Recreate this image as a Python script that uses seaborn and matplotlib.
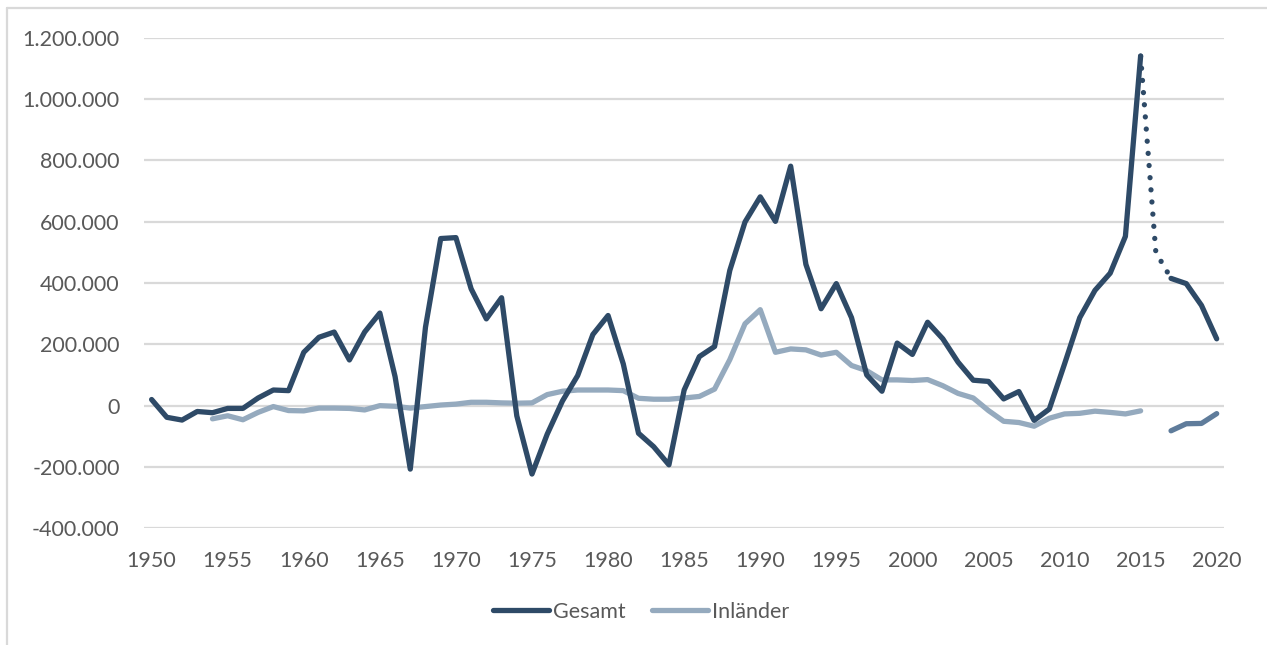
import matplotlib
matplotlib.use("Agg")
import matplotlib.pyplot as plt
import seaborn as sns
import pandas as pd
from matplotlib.lines import Line2D

# ---- data (net migration, persons) ----
years_gesamt = list(range(1950, 2016))
gesamt = [20000, -38000, -47000, -19000, -23000, -9000, -9000, 25000, 51000, 49000,
          174000, 223000, 240000, 149000, 240000, 302000, 95000, -207000, 256000, 545000,
          548000, 381000, 283000, 352000, -33000, -223000, -93000, 15000, 98000, 232000,
          294000, 136000, -90000, -134000, -193000, 51000, 160000, 193000, 441000, 599000,
          681000, 601000, 781000, 461000, 316000, 398000, 287000, 100000, 47000, 204000,
          167000, 272000, 218000, 142000, 83000, 79000, 22000, 46000, -48000, -11000,
          136000, 287000, 376000, 432000, 552000, 1140000]
years_gesamt_break = [2015, 2016, 2017]
gesamt_break = [1140000, 500000, 415000]
years_gesamt_late = [2017, 2018, 2019, 2020]
gesamt_late = [415000, 398000, 327000, 218000]

years_inl = list(range(1954, 2016))
inlaender = [-43000, -33000, -46000, -22000, -3000, -16000, -17000, -8000, -8000, -9000,
             -14000, 0, -2000, -8000, -3000, 2000, 5000, 11000, 11000, 9000,
             8000, 9000, 36000, 47000, 51000, 51000, 51000, 49000, 24000, 21000,
             21000, 25000, 30000, 54000, 150000, 267000, 313000, 174000, 185000, 182000,
             165000, 174000, 131000, 114000, 84000, 84000, 82000, 85000, 65000, 40000,
             25000, -16000, -51000, -55000, -67000, -41000, -27000, -25000, -18000, -22000,
             -27000, -17000]
years_inl_late = [2017, 2018, 2019, 2020]
inlaender_late = [-82000, -59000, -58000, -26000]

series_names = ["Gesamt", "Inländer"]
xticks = list(range(1950, 2021, 5))
yticks = list(range(-400000, 1200001, 200000))

# ---- style ----
c_gesamt = "#2E4A67"
c_inl = "#95AABE"
c_inl_late = "#5F7C9B"
c_text = "#595959"
c_grid = "#D9D9D9"

sns.set_theme(style="white")
plt.rcParams["font.family"] = ["Lato", "DejaVu Sans"]

fig = plt.figure(figsize=(12.67, 6.45), dpi=100)
ax = fig.add_axes([144 / 1267, (645 - 528.3) / 645, 1080.3 / 1267, 490.6 / 645])

lw = 3.8
common = dict(ax=ax, linewidth=lw, legend=False)

def draw(x, y, color, **kw):
    df = pd.DataFrame({"Jahr": x, "Wert": y})
    sns.lineplot(data=df, x="Jahr", y="Wert", color=color, **common, **kw)

draw(years_inl, inlaender, c_inl)
draw(years_inl_late, inlaender_late, c_inl_late)
draw(years_gesamt, gesamt, c_gesamt)
draw(years_gesamt_late, gesamt_late, c_gesamt)
draw(years_gesamt_break, gesamt_break, c_gesamt, linestyle=(0, (0.01, 2.3)))

for ln in ax.get_lines():
    ln.set_solid_joinstyle("round")
    ln.set_solid_capstyle("round")
    ln.set_dash_capstyle("round")

ax.set_xlim(1949.5, 2020.5)
ax.set_ylim(-400000, 1200000)
ax.set_xticks(xticks)
ax.set_yticks(yticks)
ax.set_xticklabels([str(t) for t in xticks])
ax.set_yticklabels([f"{t:,}".replace(",", ".") for t in yticks])
ax.tick_params(axis="both", length=0, labelsize=15.5, colors=c_text)
ax.tick_params(axis="y", pad=17.5)
ax.tick_params(axis="x", pad=16)
ax.set_xlabel("")
ax.set_ylabel("")
ax.grid(axis="y", color=c_grid, linewidth=1.6)
ax.grid(axis="x", visible=False)
ax.set_axisbelow(True)
for s in ax.spines.values():
    s.set_visible(False)

handles = [Line2D([0], [0], color=c_gesamt, lw=lw, solid_capstyle="round"),
           Line2D([0], [0], color=c_inl, lw=lw, solid_capstyle="round")]
leg = fig.legend(handles, series_names, loc="center", bbox_to_anchor=(641 / 1267, 1 - 612 / 645),
                 ncol=2, frameon=False, fontsize=15.5, handlelength=2.6, handletextpad=0.2,
                 columnspacing=1.2, labelcolor=c_text)

# outer chart frame (left and top edges visible)
fig.add_artist(Line2D([7 / 1267, 7 / 1267], [0, 1 - 8 / 645], color=c_grid, lw=1.6))
fig.add_artist(Line2D([7 / 1267, 1], [1 - 8 / 645, 1 - 8 / 645], color=c_grid, lw=1.6))

fig.savefig("out.png", dpi=100, facecolor="white")
